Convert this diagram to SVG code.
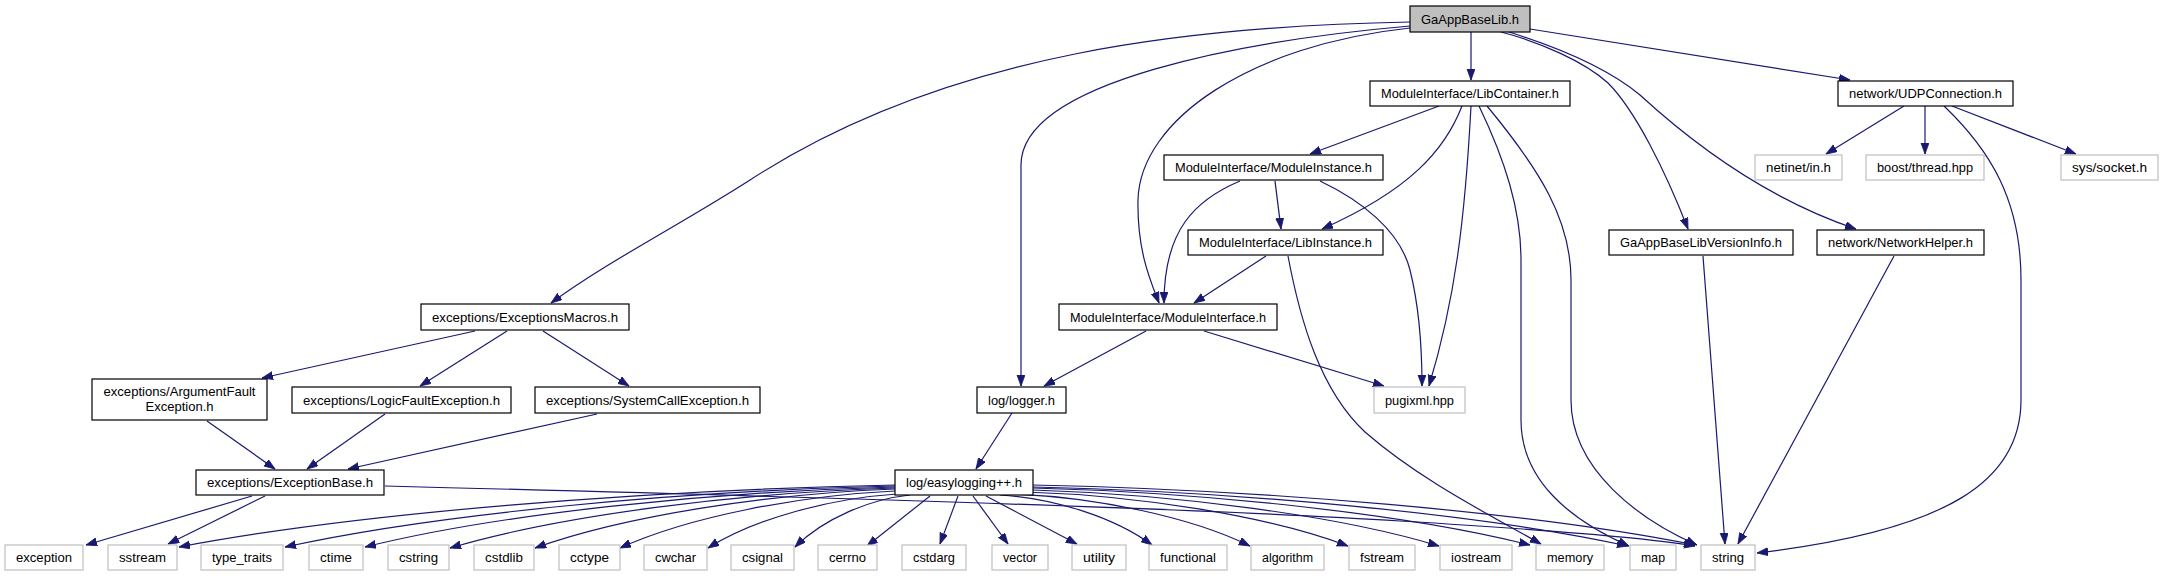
<svg xmlns="http://www.w3.org/2000/svg" width="2163" height="576" viewBox="0 0 2163 576">
<style>
  .n rect{fill:#fff;stroke:#000;stroke-width:1.2}
  .g rect{fill:#fff;stroke:#bfbfbf;stroke-width:1.2}
  .m rect{fill:#bfbfbf;stroke:#000;stroke-width:1.2}
  text{font-family:"Liberation Sans",Arial,sans-serif;font-size:13px;fill:#000;text-anchor:middle}
  .e path{fill:none;stroke:#191970;stroke-width:1.2;marker-end:url(#ah)}
</style>
<defs>
  <marker id="ah" markerUnits="userSpaceOnUse" markerWidth="12" markerHeight="9" refX="11" refY="4" orient="auto" viewBox="0 0 12 9">
    <path d="M0,0 L11,4 L0,8 z" fill="#191970" stroke="#191970" stroke-width="0.8"/>
  </marker>
</defs>
<rect width="2163" height="576" fill="#fff"/>

<g id="connectors" class="e">
  <!-- GaAppBaseLib.h -->
  <path d="M1410,22 C1200,26 950,50 750,180 C680,225 610,260 551,303"/>
  <path d="M1410,26 C1250,40 1021,80 1021,165 L1021,386"/>
  <path d="M1410,28 C1250,45 1140,120 1138,200 C1137,250 1150,280 1159,303"/>
  <path d="M1471,32 L1471,80"/>
  <path d="M1501,32 C1540,42 1585,62 1608,83 C1635,110 1665,170 1688,229"/>
  <path d="M1509,32 C1560,48 1610,70 1640,95 C1700,150 1770,200 1856,229"/>
  <path d="M1530,29 L1850,80"/>
  <!-- LibContainer -->
  <path d="M1439,106 L1310,154"/>
  <path d="M1462,106 C1445,150 1410,190 1322,229"/>
  <path d="M1471,106 C1465,220 1455,300 1429,386"/>
  <path d="M1479,106 C1505,160 1521,210 1521,260 L1521,420 C1521,480 1570,520 1629,546"/>
  <path d="M1487,106 C1540,170 1571,220 1571,280 L1571,400 C1571,470 1640,520 1697,545"/>
  <!-- UDPConnection -->
  <path d="M1904,106 L1826,154"/>
  <path d="M1925,106 L1925,154"/>
  <path d="M1952,106 L2076,154"/>
  <path d="M1944,106 C1990,150 2021,200 2021,280 L2021,400 C2021,480 1950,530 1757,553"/>
  <!-- VersionInfo / NetworkHelper -->
  <path d="M1703,256 L1725,544"/>
  <path d="M1894,256 L1738,544"/>
  <!-- ModuleInstance -->
  <path d="M1240,181 C1195,200 1164,230 1164,303"/>
  <path d="M1275,181 L1281,229"/>
  <path d="M1320,181 C1360,200 1400,230 1410,270 C1420,310 1422,350 1422,386"/>
  <!-- LibInstance -->
  <path d="M1266,256 L1194,303"/>
  <path d="M1288,256 C1300,320 1320,390 1365,432 C1420,480 1490,515 1541,544"/>
  <!-- ModuleInterface -->
  <path d="M1146,331 L1044,386"/>
  <path d="M1204,331 L1384,386"/>
  <!-- logger -->
  <path d="M1012,413 L976,469"/>
  <!-- ExceptionsMacros -->
  <path d="M475,331 L262,378"/>
  <path d="M507,331 L420,386"/>
  <path d="M543,331 L629,386"/>
  <!-- to ExceptionBase -->
  <path d="M207,421 L275,469"/>
  <path d="M385,414 L307,469"/>
  <path d="M597,414 L348,469"/>
  <!-- ExceptionBase -->
  <path d="M252,496 L86,545"/>
  <path d="M265,496 L168,544"/>
  <path d="M385,486 C700,494 1200,508 1400,521 C1550,530 1650,538 1695,546"/>
  <!-- easylogging++ -->
  <path d="M895,485 C644.4,490 358,512.9 179,547"/>
  <path d="M895,486 C681.5,490.9 437.5,513.5 285,547"/>
  <path d="M895,487 C709.5,491.8 497.5,514 365,547"/>
  <path d="M895,488 C739.3,492.8 561.3,515 450,548"/>
  <path d="M895,489 C769,493.7 625,515.6 535,548"/>
  <path d="M895,491 C798.8,495.6 688.8,516.7 620,548"/>
  <path d="M897,494 C830.9,498.3 755.3,518.3 708,548"/>
  <path d="M910,495 C869.8,499.2 823.8,518.4 795,547"/>
  <path d="M930,496 L867,546"/>
  <path d="M958,496 L940,544"/>
  <path d="M973,496 L1008,544"/>
  <path d="M986,496 L1077,544"/>
  <path d="M1000,495 C1053.2,498.1 1114,517 1152,545"/>
  <path d="M1013,494 C1096,497.2 1190.8,516.9 1250,546"/>
  <path d="M1025,492 C1138,495.4 1267.3,515.8 1348,546"/>
  <path d="M1033,490 C1175.1,494.5 1337.5,515.2 1439,546"/>
  <path d="M1033,488 C1207,492.6 1405.8,513.7 1530,545"/>
  <path d="M1033,487 C1241.3,491.7 1479.3,513.6 1628,546"/>
  <path d="M1033,485 C1264.7,489.8 1529.5,512 1695,545"/>
</g>

<g id="n_main" class="m"><rect x="1410" y="6" width="120" height="26"/><text x="1470" y="23.5" textLength="98" lengthAdjust="spacingAndGlyphs">GaAppBaseLib.h</text></g>
<g id="n_libcontainer" class="n"><rect x="1370" y="81" width="200" height="25"/><text x="1470" y="98" textLength="178" lengthAdjust="spacingAndGlyphs">ModuleInterface/LibContainer.h</text></g>
<g id="n_udp" class="n"><rect x="1838" y="81" width="175" height="25"/><text x="1925.5" y="98" textLength="153" lengthAdjust="spacingAndGlyphs">network/UDPConnection.h</text></g>
<g id="n_modinstance" class="n"><rect x="1164" y="155" width="219" height="25"/><text x="1273.5" y="172" textLength="197" lengthAdjust="spacingAndGlyphs">ModuleInterface/ModuleInstance.h</text></g>
<g id="n_netinet" class="g"><rect x="1755" y="155" width="87" height="25"/><text x="1798.5" y="172" textLength="65" lengthAdjust="spacingAndGlyphs">netinet/in.h</text></g>
<g id="n_boost" class="g"><rect x="1866" y="155" width="118" height="25"/><text x="1925" y="172" textLength="96" lengthAdjust="spacingAndGlyphs">boost/thread.hpp</text></g>
<g id="n_socket" class="g"><rect x="2061" y="155" width="97" height="25"/><text x="2109.5" y="172" textLength="75" lengthAdjust="spacingAndGlyphs">sys/socket.h</text></g>
<g id="n_libinstance" class="n"><rect x="1188" y="230" width="195" height="25"/><text x="1285.5" y="247" textLength="173" lengthAdjust="spacingAndGlyphs">ModuleInterface/LibInstance.h</text></g>
<g id="n_version" class="n"><rect x="1609" y="230" width="184" height="25"/><text x="1701" y="247" textLength="162" lengthAdjust="spacingAndGlyphs">GaAppBaseLibVersionInfo.h</text></g>
<g id="n_nethelper" class="n"><rect x="1817" y="230" width="167" height="25"/><text x="1900.5" y="247" textLength="145" lengthAdjust="spacingAndGlyphs">network/NetworkHelper.h</text></g>
<g id="n_macros" class="n"><rect x="421" y="304" width="208" height="26"/><text x="525" y="321.5" textLength="186" lengthAdjust="spacingAndGlyphs">exceptions/ExceptionsMacros.h</text></g>
<g id="n_modinterface" class="n"><rect x="1059" y="304" width="218" height="26"/><text x="1168" y="321.5" textLength="196" lengthAdjust="spacingAndGlyphs">ModuleInterface/ModuleInterface.h</text></g>
<g id="n_argfault" class="n"><rect x="92" y="379" width="175" height="41"/><text x="179.5" y="396" textLength="152" lengthAdjust="spacingAndGlyphs">exceptions/ArgumentFault</text><text x="179.5" y="411" textLength="68" lengthAdjust="spacingAndGlyphs">Exception.h</text></g>
<g id="n_logicfault" class="n"><rect x="292" y="387" width="219" height="26"/><text x="401.5" y="404.5" textLength="197" lengthAdjust="spacingAndGlyphs">exceptions/LogicFaultException.h</text></g>
<g id="n_syscall" class="n"><rect x="535" y="387" width="225" height="26"/><text x="647.5" y="404.5" textLength="203" lengthAdjust="spacingAndGlyphs">exceptions/SystemCallException.h</text></g>
<g id="n_logger" class="n"><rect x="977" y="387" width="89" height="26"/><text x="1021.5" y="404.5" textLength="67" lengthAdjust="spacingAndGlyphs">log/logger.h</text></g>
<g id="n_pugixml" class="g"><rect x="1374" y="387" width="91" height="26"/><text x="1419.5" y="404.5" textLength="69" lengthAdjust="spacingAndGlyphs">pugixml.hpp</text></g>
<g id="n_excbase" class="n"><rect x="196" y="470" width="188" height="25"/><text x="290" y="487" textLength="166" lengthAdjust="spacingAndGlyphs">exceptions/ExceptionBase.h</text></g>
<g id="n_easylogging" class="n"><rect x="895" y="470" width="138" height="25"/><text x="964" y="487" textLength="116" lengthAdjust="spacingAndGlyphs">log/easylogging++.h</text></g>

<g id="n_exception" class="g"><rect x="5" y="545" width="78" height="25"/><text x="44" y="562" textLength="56" lengthAdjust="spacingAndGlyphs">exception</text></g>
<g id="n_sstream" class="g"><rect x="108" y="545" width="69" height="25"/><text x="142.5" y="562" textLength="47" lengthAdjust="spacingAndGlyphs">sstream</text></g>
<g id="n_type_traits" class="g"><rect x="201" y="545" width="82" height="25"/><text x="242" y="562" textLength="60" lengthAdjust="spacingAndGlyphs">type_traits</text></g>
<g id="n_ctime" class="g"><rect x="309" y="545" width="54" height="25"/><text x="336" y="562" textLength="32" lengthAdjust="spacingAndGlyphs">ctime</text></g>
<g id="n_cstring" class="g"><rect x="388" y="545" width="61" height="25"/><text x="418.5" y="562" textLength="39" lengthAdjust="spacingAndGlyphs">cstring</text></g>
<g id="n_cstdlib" class="g"><rect x="474" y="545" width="60" height="25"/><text x="504" y="562" textLength="38" lengthAdjust="spacingAndGlyphs">cstdlib</text></g>
<g id="n_cctype" class="g"><rect x="559" y="545" width="61" height="25"/><text x="589.5" y="562" textLength="39" lengthAdjust="spacingAndGlyphs">cctype</text></g>
<g id="n_cwchar" class="g"><rect x="644" y="545" width="63" height="25"/><text x="675.5" y="562" textLength="41" lengthAdjust="spacingAndGlyphs">cwchar</text></g>
<g id="n_csignal" class="g"><rect x="731" y="545" width="63" height="25"/><text x="762.5" y="562" textLength="41" lengthAdjust="spacingAndGlyphs">csignal</text></g>
<g id="n_cerrno" class="g"><rect x="818" y="545" width="59" height="25"/><text x="847.5" y="562" textLength="37" lengthAdjust="spacingAndGlyphs">cerrno</text></g>
<g id="n_cstdarg" class="g"><rect x="902" y="545" width="64" height="25"/><text x="934" y="562" textLength="42" lengthAdjust="spacingAndGlyphs">cstdarg</text></g>
<g id="n_vector" class="g"><rect x="992" y="545" width="56" height="25"/><text x="1020" y="562" textLength="34" lengthAdjust="spacingAndGlyphs">vector</text></g>
<g id="n_utility" class="g"><rect x="1072" y="545" width="54" height="25"/><text x="1099" y="562" textLength="32" lengthAdjust="spacingAndGlyphs">utility</text></g>
<g id="n_functional" class="g"><rect x="1149" y="545" width="78" height="25"/><text x="1188" y="562" textLength="56" lengthAdjust="spacingAndGlyphs">functional</text></g>
<g id="n_algorithm" class="g"><rect x="1251" y="545" width="73" height="25"/><text x="1287.5" y="562" textLength="51" lengthAdjust="spacingAndGlyphs">algorithm</text></g>
<g id="n_fstream" class="g"><rect x="1349" y="545" width="66" height="25"/><text x="1382" y="562" textLength="44" lengthAdjust="spacingAndGlyphs">fstream</text></g>
<g id="n_iostream" class="g"><rect x="1440" y="545" width="72" height="25"/><text x="1476" y="562" textLength="50" lengthAdjust="spacingAndGlyphs">iostream</text></g>
<g id="n_memory" class="g"><rect x="1536" y="545" width="68" height="25"/><text x="1570" y="562" textLength="46" lengthAdjust="spacingAndGlyphs">memory</text></g>
<g id="n_map" class="g"><rect x="1630" y="545" width="46" height="25"/><text x="1653" y="562" textLength="24" lengthAdjust="spacingAndGlyphs">map</text></g>
<g id="n_string" class="g"><rect x="1701" y="545" width="54" height="25"/><text x="1728" y="562" textLength="32" lengthAdjust="spacingAndGlyphs">string</text></g>
</svg>
